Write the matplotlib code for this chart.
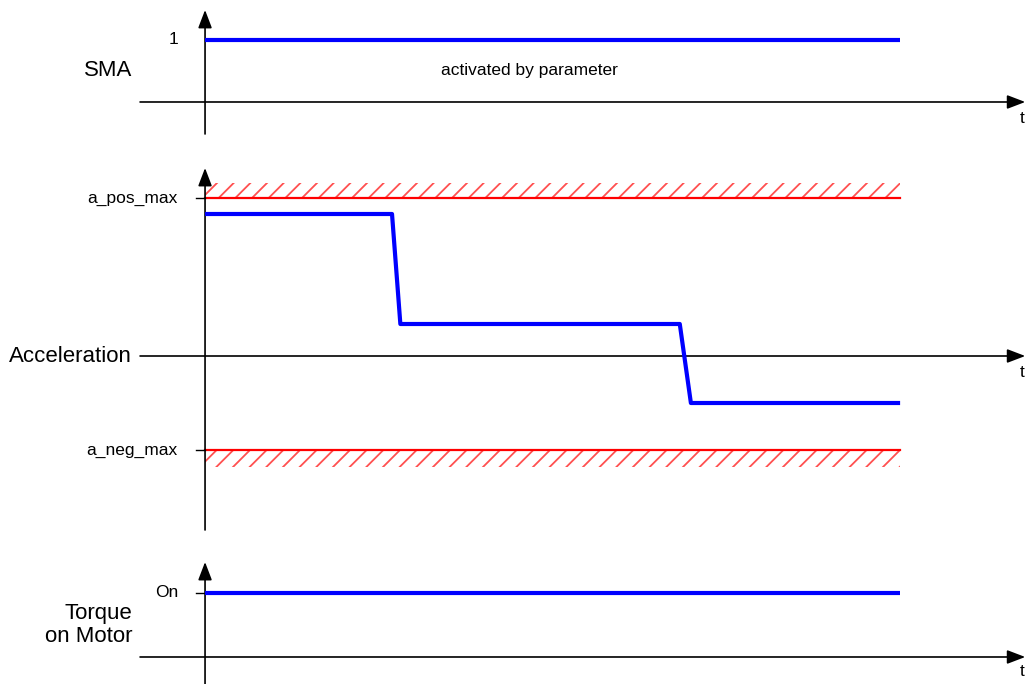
import numpy as np
import matplotlib
matplotlib.use('Agg')
import matplotlib.pyplot as plt

plt.rcParams['font.family'] = ['Liberation Sans', 'DejaVu Sans']
plt.rcParams['hatch.linewidth'] = 1.3

# data (time in arbitrary units, signal end at t=10)
t_end = 10.0
sma_t = [0, t_end]
sma_v = [1, 1]

accel_t = [0, 2.69, 2.81, 6.83, 6.99, t_end]
accel_v = [1.42, 1.42, 0.32, 0.32, -0.47, -0.47]
a_pos_max = 1.58
a_neg_max = -0.94

torque_t = [0, t_end]
torque_v = [1, 1]

# figure / panel setup: every axes spans the whole figure, ylim chosen per panel
fig = plt.figure(figsize=(10.28, 6.84), dpi=100)
xlim = (-2.95, 11.84)
panels = {
    'sma': (-9.387, 1.645),
    'acc': (-3.28, 3.56),
    'trq': (-0.422, 10.266),
}
axs = {}
for k, yl in panels.items():
    ax = fig.add_axes([0, 0, 1, 1])
    ax.set_xlim(*xlim)
    ax.set_ylim(*yl)
    ax.axis('off')
    ax.patch.set_alpha(0)
    axs[k] = ax

arrow = dict(arrowstyle='-|>,head_length=1.1,head_width=0.42', color='black',
             lw=1.2, shrinkA=0, shrinkB=0, mutation_scale=10)

big = 16
small = 12.5
lab_x = -1.05
tick_lab_x = -0.39


def draw_axes(ax, ybot, ytop, tlab_y):
    ax.annotate('', xy=(11.80, 0), xytext=(-0.935, 0), arrowprops=arrow)
    ax.annotate('', xy=(0, ytop), xytext=(0, ybot), arrowprops=arrow)
    ax.text(11.72, tlab_y, 't', fontsize=small, ha='left', va='center')


# SMA
ax = axs['sma']
draw_axes(ax, -0.516, 1.484, -0.26)
ax.plot(sma_t, sma_v, color='#0000ff', lw=3, solid_capstyle='butt', zorder=3)
ax.text(tick_lab_x, 1, '1', fontsize=small, ha='right', va='center')
ax.text(lab_x, 0.5, 'SMA', fontsize=big, ha='right', va='center')
ax.text(4.66, 0.5, 'activated by parameter', fontsize=small, ha='center', va='center')

# Acceleration
ax = axs['acc']
draw_axes(ax, -1.74, 1.88, -0.16)
ax.fill_between([0, t_end], a_pos_max, a_pos_max + 0.15, facecolor='none',
                edgecolor='#ff5050', hatch='//', lw=0)
ax.fill_between([0, t_end], a_neg_max - 0.17, a_neg_max, facecolor='none',
                edgecolor='#ff5050', hatch='//', lw=0)
ax.plot([0, t_end], [a_pos_max, a_pos_max], color='red', lw=1.6)
ax.plot([0, t_end], [a_neg_max, a_neg_max], color='red', lw=1.6)
ax.plot(accel_t, accel_v, color='#0000ff', lw=3, solid_capstyle='butt', zorder=3)
for lvl, lab in [(a_pos_max, 'a_pos_max'), (a_neg_max, 'a_neg_max')]:
    ax.plot([-0.13, 0], [lvl, lvl], color='black', lw=1)
    ax.text(tick_lab_x, lvl, lab, fontsize=small, ha='right', va='center')
ax.text(lab_x, 0, 'Acceleration', fontsize=big, ha='right', va='center')

# Torque
ax = axs['trq']
draw_axes(ax, -0.42, 1.484, -0.23)
ax.plot(torque_t, torque_v, color='#0000ff', lw=3, solid_capstyle='butt', zorder=3)
ax.plot([-0.13, 0], [1, 1], color='black', lw=1)
ax.text(tick_lab_x, 1, 'On', fontsize=small, ha='right', va='center')
ax.text(lab_x, 0.5, 'Torque\non Motor', fontsize=big, ha='right', va='center',
        multialignment='right', linespacing=1.1)

fig.savefig('out.png', dpi=100)
